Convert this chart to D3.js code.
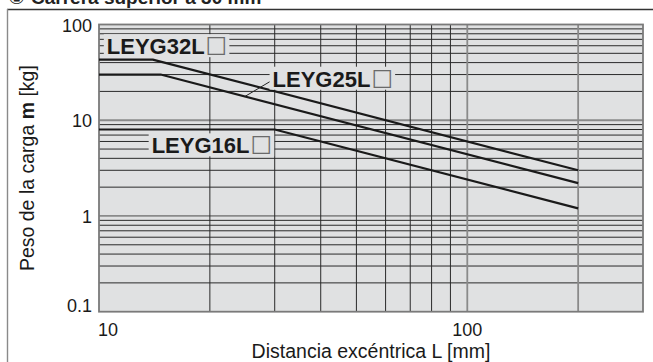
<!DOCTYPE html>
<html>
<head>
<meta charset="utf-8">
<script src="https://cdn.jsdelivr.net/npm/d3@7"></script>
<style>
  html, body { margin: 0; padding: 0; background: #fff; }
  svg { display: block; }
</style>
</head>
<body>
<svg id="chart" width="653" height="362"></svg>
<script>
// Load vs. eccentric distance, top stroke over 30 mm (log–log)
const titleText = "Carrera superior a 30 mm";
const xTitle = "Distancia excéntrica L [mm]";
const yTitleParts = ["Peso de la carga ", "m", " [kg]"];

const xTickValues = [10, 100];
const xTickLabels = ["10", "100"];
const yTickValues = [0.1, 1, 10, 100];
const yTickLabels = ["0.1", "1", "10", "100"];

const seriesNames = ["LEYG32L", "LEYG25L", "LEYG16L"];
const distances32 = [10, 14, 200];
const loads32 = [43, 43, 3.0];
const distances25 = [10, 14.7, 200];
const loads25 = [30, 30, 2.2];
const distances16 = [10, 30, 200];
const loads16 = [8, 8, 1.2];

const svg = d3.select("#chart");
const W = 653, H = 362;
const plot = { left: 99, right: 643, top: 24.5, bottom: 311.7 };

const x = d3.scaleLog().domain([10, 300]).range([plot.left, plot.right]);
const y = d3.scaleLog().domain([0.1, 100]).range([plot.bottom, plot.top]);

const bg = "#e0e1e2";
const font = "Liberation Sans, Arial, sans-serif";

// outer frame
svg.append("line").attr("x1", 7).attr("x2", W).attr("y1", 9.5).attr("y2", 9.5)
  .attr("stroke", "#333").attr("stroke-width", 1.4);
svg.append("line").attr("x1", 7.5).attr("x2", 7.5).attr("y1", 9).attr("y2", H)
  .attr("stroke", "#8a8a8a").attr("stroke-width", 1.4);

// heading (only its lower part falls inside the page)
const head = svg.append("text").attr("x", 8).attr("y", 4)
  .attr("font-family", font)
  .attr("font-weight", "bold").attr("font-size", 19).attr("fill", "#222");
head.append("tspan").attr("font-family", "DejaVu Sans").attr("font-weight", "normal").text("①");
head.append("tspan").attr("dx", 6).text(titleText);

// plot background
svg.append("rect").attr("x", plot.left).attr("y", plot.top)
  .attr("width", plot.right - plot.left).attr("height", plot.bottom - plot.top)
  .attr("fill", bg);

const grid = svg.append("g");
// horizontal grid: 2..9 of each decade (dark, thin), decades (gray, heavier)
const yMinor = [];
[0.1, 1, 10].forEach(d => { for (let k = 2; k <= 9; k++) yMinor.push(d * k); });
grid.selectAll("line.hy").data(yMinor).join("line")
  .attr("x1", plot.left).attr("x2", plot.right)
  .attr("y1", d => y(d)).attr("y2", d => y(d))
  .attr("stroke", "#2a2a2a").attr("stroke-width", 1);
grid.selectAll("line.hyM").data([1, 10]).join("line")
  .attr("x1", plot.left).attr("x2", plot.right)
  .attr("y1", d => y(d)).attr("y2", d => y(d))
  .attr("stroke", "#8a8a8a").attr("stroke-width", 1.8);

const xMinor = [20, 30, 40, 50, 60, 70, 80, 90];
grid.selectAll("line.vx").data(xMinor).join("line")
  .attr("x1", d => x(d)).attr("x2", d => x(d))
  .attr("y1", plot.top).attr("y2", plot.bottom)
  .attr("stroke", "#2a2a2a").attr("stroke-width", 1);
grid.selectAll("line.vxM").data([100, 200]).join("line")
  .attr("x1", d => x(d)).attr("x2", d => x(d))
  .attr("y1", plot.top).attr("y2", plot.bottom)
  .attr("stroke", "#8a8a8a").attr("stroke-width", 1.8);

// plot border
svg.append("rect").attr("x", plot.left).attr("y", plot.top)
  .attr("width", plot.right - plot.left).attr("height", plot.bottom - plot.top)
  .attr("fill", "none").attr("stroke", "#7a7a7a").attr("stroke-width", 1.8);

// data lines
const series = [
  { name: seriesNames[0], L: distances32, m: loads32 },
  { name: seriesNames[1], L: distances25, m: loads25 },
  { name: seriesNames[2], L: distances16, m: loads16 }
];
const line = d3.line().x(d => x(d[0])).y(d => y(d[1]));
svg.append("g").selectAll("path").data(series).join("path")
  .attr("d", s => line(s.L.map((v, i) => [v, s.m[i]])))
  .attr("fill", "none").attr("stroke", "#1a1a1a").attr("stroke-width", 2.2)
  .attr("stroke-linejoin", "round");

// leader from the LEYG25 label down to its line
svg.append("line")
  .attr("x1", x(29.3)).attr("y1", y(25.7))
  .attr("x2", x(24.9)).attr("y2", y(17.7))
  .attr("stroke", "#222").attr("stroke-width", 1);

// series labels, each on a knock-out patch of the plot colour
const labelSpots = [
  { name: seriesNames[0], L: 10.5, m: 49 },
  { name: seriesNames[1], L: 29.6, m: 22.4 },
  { name: seriesNames[2], L: 13.9, m: 4.51 }
];
const labels = svg.append("g");
labelSpots.forEach(sp => {
  const g = labels.append("g");
  const bgRect = g.append("rect").attr("fill", bg);
  const t = g.append("text").attr("x", x(sp.L)).attr("y", y(sp.m))
    .attr("font-family", font)
    .attr("font-weight", "bold").attr("font-size", 22).attr("fill", "#1a1a1a");
  t.append("tspan").text(sp.name);
  t.append("tspan").attr("font-family", "DejaVu Sans").attr("font-weight", "normal")
    .attr("font-size", 23).attr("dx", 1).attr("dy", -2).attr("fill", "#6a6a6a").text("□");
  const bb = t.node().getBBox();
  bgRect.attr("x", bb.x - 3).attr("y", y(sp.m) - 20)
    .attr("width", bb.width + 5).attr("height", 23);
});

// y tick labels
svg.append("g").selectAll("text").data(yTickValues).join("text")
  .attr("x", 92)
  .attr("y", d => d === y.domain()[0] ? y(d) : y(d) + 7)
  .attr("text-anchor", "end")
  .attr("font-family", font).attr("font-size", 18).attr("fill", "#1a1a1a")
  .text((d, i) => yTickLabels[i]);

// x tick labels
svg.append("g").selectAll("text").data(xTickValues).join("text")
  .attr("x", d => d === x.domain()[0] ? x(d) - 1 : x(d))
  .attr("y", 335.5)
  .attr("text-anchor", d => d === x.domain()[0] ? "start" : "middle")
  .attr("font-family", font).attr("font-size", 18).attr("fill", "#1a1a1a")
  .text((d, i) => xTickLabels[i]);

// axis titles
svg.append("text").attr("x", (plot.left + plot.right) / 2).attr("y", 358)
  .attr("text-anchor", "middle").attr("font-family", font)
  .attr("font-size", 19.5).attr("fill", "#1a1a1a").text(xTitle);

const yt = svg.append("text")
  .attr("transform", `translate(33.5,${(plot.top + plot.bottom) / 2}) rotate(-90)`)
  .attr("text-anchor", "middle").attr("font-family", font)
  .attr("font-size", 19.5).attr("fill", "#1a1a1a");
yt.append("tspan").text(yTitleParts[0]);
yt.append("tspan").attr("font-weight", "bold").text(yTitleParts[1]);
yt.append("tspan").text(yTitleParts[2]);
</script>
</body>
</html>
